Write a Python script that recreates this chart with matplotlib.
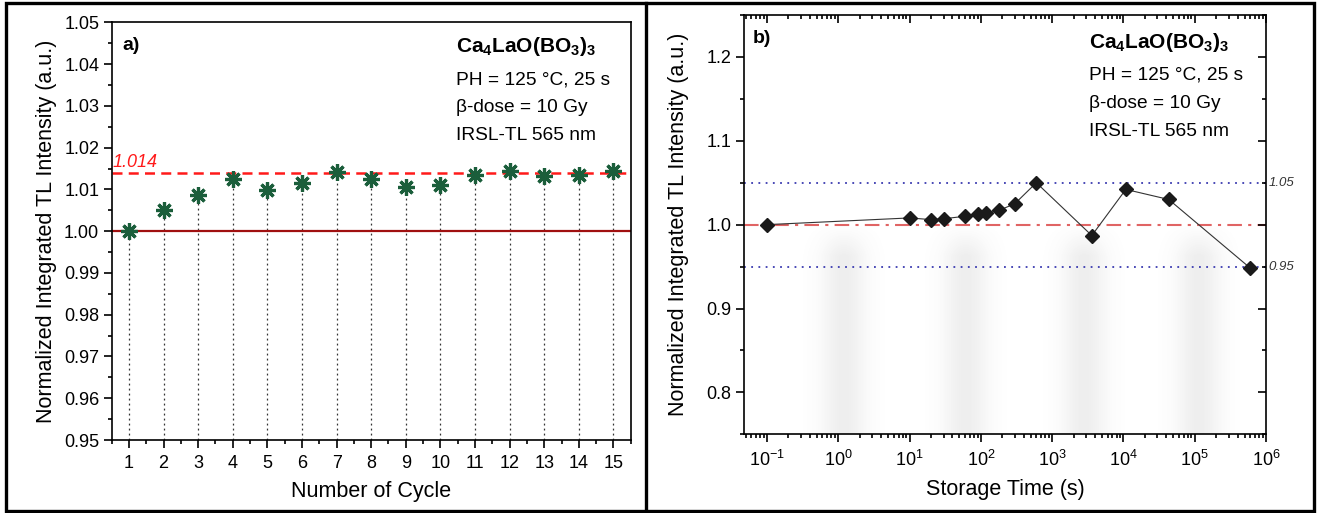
import numpy as np
import matplotlib
matplotlib.use("Agg")
import matplotlib.pyplot as plt
from matplotlib.lines import Line2D
from matplotlib.patches import Rectangle
from matplotlib.ticker import MultipleLocator, LogLocator, NullFormatter

plt.rcParams['font.family'] = ['Liberation Sans', 'DejaVu Sans']
plt.rcParams['mathtext.fontset'] = 'custom'
plt.rcParams['mathtext.rm'] = 'Liberation Sans'
plt.rcParams['mathtext.it'] = 'Liberation Sans:italic'
plt.rcParams['mathtext.bf'] = 'Liberation Sans:bold'

# (a) repeatability over cycles
cycles = list(range(1, 16))
cycle_tl = [1.0000, 1.0051, 1.0087, 1.0124, 1.0098, 1.0116, 1.0142, 1.0124,
            1.0106, 1.0110, 1.0135, 1.0143, 1.0133, 1.0135, 1.0145]
mean_level = 1.014

# (b) fading with storage time
storage_s = [0.1, 10, 20, 30, 60, 90, 120, 180, 300, 600, 3600, 10800, 43200, 604800]
storage_tl = [1.000, 1.008, 1.006, 1.007, 1.010, 1.013, 1.0135, 1.017, 1.025,
              1.050, 0.987, 1.042, 1.030, 0.948]
band_hi, band_lo = 1.05, 0.95

info = ['PH = 125 \u00b0C, 25 s', '\u03b2-dose = 10 Gy', 'IRSL-TL 565 nm']
compound = r'$\mathbf{Ca_4LaO(BO_3)_3}$'
ylab = 'Normalized Integrated TL Intensity (a.u.)'

fig = plt.figure(figsize=(13.17, 5.13), dpi=100)
ax1 = fig.add_axes([0.0848, 0.1423, 0.3941, 0.8142])
ax2 = fig.add_axes([0.5651, 0.1534, 0.3962, 0.8174])

# ---- panel a ----
green = '#1b5e3b'
ax1.vlines(cycles, 0.95, cycle_tl, colors='#333333', linestyles=(0, (1.5, 2.5)), lw=0.9, zorder=1)
ax1.axhline(1.0, color='#a01010', lw=1.6, zorder=2)
ax1.axhline(mean_level, color='#ff1a1a', lw=1.8, ls=(0, (4, 2.5)), zorder=2)
ax1.plot(cycles, cycle_tl, ls='none', marker=(8, 2, 0), ms=12, mew=2.3,
         color=green, zorder=3)
ax1.text(0.52, mean_level + 0.0005, f'{mean_level:.3f}', color='#ff1a1a',
         style='italic', fontsize=13, ha='left', va='bottom')

ax1.set_xlim(0.5, 15.5)
ax1.set_ylim(0.95, 1.05)
ax1.set_xticks(cycles)
ax1.xaxis.set_minor_locator(MultipleLocator(0.5))
ax1.yaxis.set_major_locator(MultipleLocator(0.01))
ax1.yaxis.set_minor_locator(MultipleLocator(0.005))
ax1.yaxis.set_major_formatter(plt.FormatStrFormatter('%.2f'))
ax1.tick_params(which='both', direction='out', labelsize=13, width=1.2)
ax1.tick_params(which='major', length=6, pad=3)
ax1.tick_params(which='minor', length=3)
ax1.tick_params(axis='x', pad=5)
ax1.set_xlabel('Number of Cycle', fontsize=15.5, labelpad=6)
ax1.set_ylabel(ylab, fontsize=15.5, labelpad=5)
ax1.text(0.02, 0.965, 'a)', transform=ax1.transAxes, fontsize=14,
         fontweight='bold', va='top')
ax1.text(0.664, 0.93, compound, transform=ax1.transAxes, fontsize=15, va='baseline')
for i, line in enumerate(info):
    ax1.text(0.664, 0.852 - i * 0.067, line, transform=ax1.transAxes,
             fontsize=13.8, va='baseline')

# ---- panel b ----
# soft grey stripes in the lower half of the plot area
xs = np.linspace(0, 1, 600)
ys = np.linspace(0, 1, 200)
prof = np.zeros_like(xs)
for c in (0.191, 0.425, 0.652, 0.872):
    prof += np.exp(-0.5 * ((xs - c) / 0.03) ** 2)
fade = np.clip((1 - ys) / 0.15, 0, 1)
alpha = 0.12 * fade[:, None] * prof[None, :]
img = np.zeros((len(ys), len(xs), 4))
img[..., :3] = 0.45
img[..., 3] = alpha
ax2.imshow(img, extent=(0, 1, 0, 0.5), origin='lower', transform=ax2.transAxes,
           aspect='auto', zorder=0, interpolation='bilinear')

ax2.axhline(band_hi, color='#3a3ab0', lw=1.3, ls=(0, (1, 3)), zorder=1)
ax2.axhline(band_lo, color='#3a3ab0', lw=1.3, ls=(0, (1, 3)), zorder=1)
ax2.axhline(1.0, color='#e06464', lw=1.5, ls=(0, (7, 3, 1.5, 3)), zorder=1)
ax2.plot(storage_s, storage_tl, color='#333333', lw=0.8, marker='D', ms=7,
         mfc='#1a1a1a', mec='#1a1a1a', zorder=3)

ax2.set_xscale('log')
ax2.set_xlim(0.048, 1e6)
ax2.set_ylim(0.75, 1.25)
ax2.xaxis.set_major_locator(LogLocator(base=10, numticks=20))
ax2.xaxis.set_minor_locator(LogLocator(base=10, subs=np.arange(2, 10), numticks=20))
ax2.xaxis.set_minor_formatter(NullFormatter())
ax2.yaxis.set_major_locator(MultipleLocator(0.1))
ax2.yaxis.set_minor_locator(MultipleLocator(0.05))
ax2.yaxis.set_major_formatter(plt.FormatStrFormatter('%.1f'))
ax2.tick_params(which='both', direction='out', labelsize=13, width=1.2)
ax2.tick_params(which='major', length=6, pad=3)
ax2.tick_params(which='minor', length=3)
ax2.tick_params(axis='x', pad=5)
ax2.xaxis.set_tick_params(which='both', top=True)
ax2.yaxis.set_tick_params(which='both', right=True)
# mirrored ticks point inward
for t in ax2.xaxis.get_major_ticks() + ax2.xaxis.get_minor_ticks():
    t.tick2line.set_marker(3)
for t in ax2.yaxis.get_major_ticks() + ax2.yaxis.get_minor_ticks():
    t.tick2line.set_marker(0)
ax2.set_xlabel('Storage Time (s)', fontsize=15.5, labelpad=7)
ax2.set_ylabel(ylab, fontsize=15.5, labelpad=13)
ax2.text(0.017, 0.965, 'b)', transform=ax2.transAxes, fontsize=14,
         fontweight='bold', va='top')
ax2.text(0.66, 0.921, compound, transform=ax2.transAxes, fontsize=15, va='baseline')
for i, line in enumerate(info):
    ax2.text(0.66, 0.845 - i * 0.067, line, transform=ax2.transAxes,
             fontsize=13.8, va='baseline')
for lvl in (band_hi, band_lo):
    ax2.text(1.005, lvl, f'{lvl:.2f}', transform=ax2.get_yaxis_transform(),
             fontsize=9.5, style='italic', va='center', ha='left', color='#333333')

for ax in (ax1, ax2):
    for s in ax.spines.values():
        s.set_linewidth(1.2)

# outer frame and panel divider
fig.patches.append(Rectangle((0.0045, 0.003), 0.9935, 0.991, transform=fig.transFigure,
                             fill=False, lw=2.4, edgecolor='black'))
fig.add_artist(Line2D([0.4905, 0.4905], [0.003, 0.994], transform=fig.transFigure,
                      color='black', lw=2.4))

fig.savefig('out.png', dpi=100, facecolor='white')
